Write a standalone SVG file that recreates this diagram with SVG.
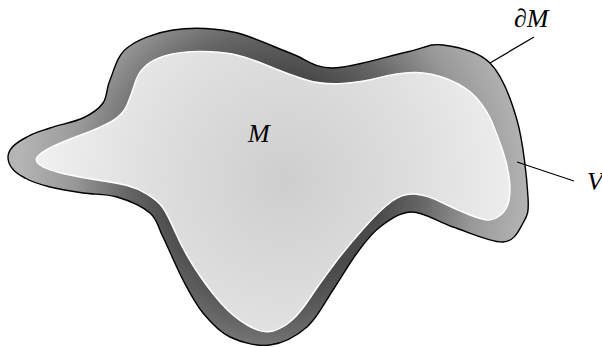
<svg xmlns="http://www.w3.org/2000/svg" width="602" height="347" viewBox="0 0 602 347">
<style>
.lbl{font-family:"Liberation Serif","DejaVu Serif",serif;font-style:italic;font-size:26px;fill:#000}
.lead{stroke:#000;stroke-width:1.3;fill:none}
</style>
<defs>
<radialGradient id="ringG" gradientUnits="userSpaceOnUse" cx="275" cy="180" r="270">
<stop offset="0.4" stop-color="#4a4a4a"/>
<stop offset="0.55" stop-color="#666666"/>
<stop offset="0.75" stop-color="#999999"/>
<stop offset="0.95" stop-color="#b5b5b5"/>
</radialGradient>
<radialGradient id="innerG" gradientUnits="userSpaceOnUse" cx="285" cy="180" r="260">
<stop offset="0" stop-color="#cecece"/>
<stop offset="0.5" stop-color="#dedede"/>
<stop offset="1" stop-color="#f2f2f2"/>
</radialGradient>
</defs>
<g id="V">
<path fill="url(#ringG)" stroke="#000" stroke-width="1.4" d="M 8,157 C 8,148 18,141.5 27,137 C 34,132.5 40.67,131.17 50,128 C 59.33,124.83 74.17,122.17 83,118 C 91.83,113.83 98.5,109.33 103,103 C 107.5,96.67 106,89.17 110,80 C 114,70.83 116.5,56.33 127,48 C 137.5,39.67 155.33,32.67 173,30 C 190.67,27.33 213.5,28.17 233,32 C 252.5,35.83 273.33,47 290,53 C 306.67,59 313.5,68.17 333,68 C 352.5,67.83 388.67,55.83 407,52 C 425.33,48.17 429.17,43.17 443,45 C 456.83,46.83 477.67,50.5 490,63 C 502.33,75.5 510.67,97.67 517,120 C 523.33,142.33 527,179.83 528,197 C 529,214.17 527.17,215.5 523,223 C 518.83,230.5 514.67,241.33 503,242 C 491.33,242.67 468.17,232 453,227 C 437.83,222 424.17,212 412,212 C 399.83,212 389.17,220.17 380,227 C 370.83,233.83 364.83,242.5 357,253 C 349.17,263.5 341.33,277.67 333,290 C 324.67,302.33 317.5,317.83 307,327 C 296.5,336.17 282.83,343.33 270,345 C 257.17,346.67 241.17,342.33 230,337 C 218.830,331.67 210.83,322.5 203,313 C 195.17,303.5 189.67,292.67 183,280 C 176.33,267.33 168.5,248.17 163,237 C 157.5,225.83 157.67,219.67 150,213 C 142.33,206.33 128.17,200.33 117,197 C 105.83,193.67 94.17,194.67 83,193 C 71.83,191.33 59.67,189.5 50,187 C 40.33,184.5 31.33,181.67 25,178 C 16,173.5 8,166 8,157 Z"/>
</g>
<g id="M">
<path fill="url(#innerG)" stroke="#fff" stroke-width="1.5" d="M 40,165 Q 33,160 39,155 Q 45,150 56,145 Q 67,140 83.5,134 Q 100,128 111.5,121.5 Q 123,115 127.5,104 Q 132,93 135,83 Q 138,73 145,66.5 Q 152,60 164.5,56 Q 177,52 197,51.5 Q 217,51 232,54 Q 247,57 268.5,66 Q 290,75 306.5,80 Q 323,85 343,83.5 Q 363,82 380,77.5 Q 397,73 413.5,72.5 Q 430,72 448.5,79.5 Q 467,87 477,98.5 Q 487,110 492.5,123.5 Q 498,137 502.5,150 Q 507,163 509,176.5 Q 511,190 509,200 Q 507,210 500.5,215 Q 494,220 488.5,220 Q 483,220 470,215 Q 457,210 442,202.5 Q 427,195 415,194 Q 403,193 391.5,201.5 Q 380,210 363.5,228.5 Q 347,247 333.5,265 Q 320,283 310,298 Q 300,313 291.5,320.5 Q 283,328 273,331 Q 263,334 248,325.5 Q 233,317 220,302 Q 207,287 195,268.5 Q 183,250 175,231.5 Q 167,213 162,206.5 Q 157,200 147,194 Q 137,188 127,185.5 Q 117,183 100,180.5 Q 83,178 65,174 Q 47,170 40,165 Z"/>
<text class="lbl" x="248" y="142">M</text>
</g>
<g id="connectors">
<line class="lead" x1="490" y1="63" x2="534" y2="37"/>
<line class="lead" x1="517" y1="162" x2="574" y2="181"/>
</g>
<g id="labels">
<text class="lbl" x="514" y="27">∂M</text>
<text class="lbl" x="587" y="190">V</text>
</g>
</svg>
